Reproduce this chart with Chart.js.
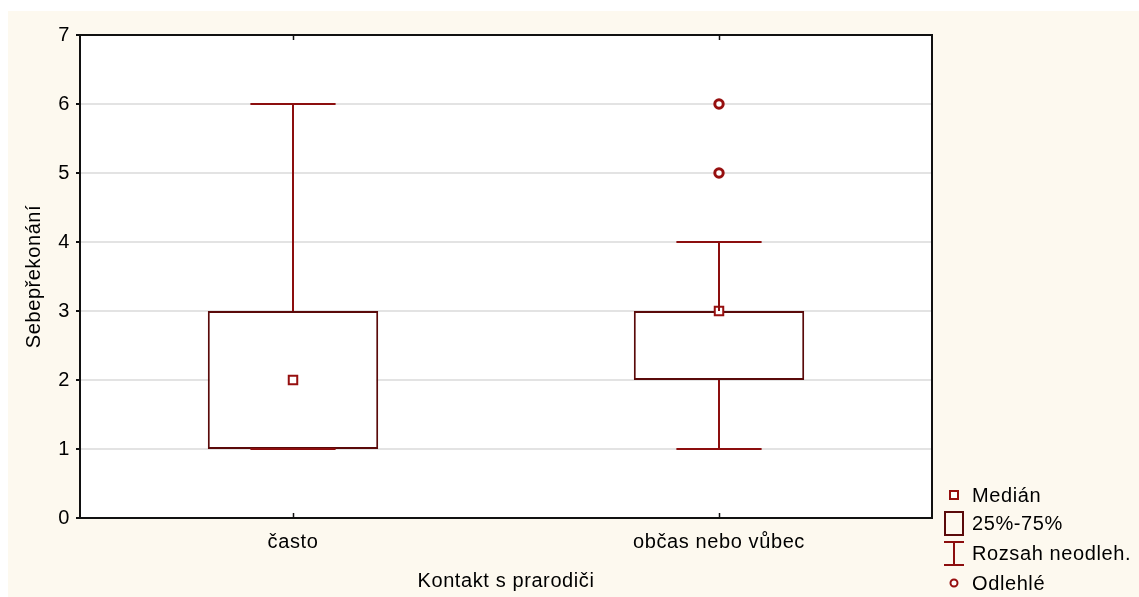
<!DOCTYPE html>
<html>
<head>
<meta charset="utf-8">
<script src="https://cdn.jsdelivr.net/npm/chart.js@4/dist/chart.umd.min.js"></script>
<style>
  html, body { margin: 0; padding: 0; background: #ffffff; }
  #wrap { width: 1139px; height: 597px; }
</style>
</head>
<body>
<div id="wrap"><canvas id="c" width="1139" height="597"></canvas></div>
<script>
// Box-plot summary per group
const categories = ['často', 'občas nebo vůbec'];
const minValues = [1, 1];
const q1Values = [1, 2];
const medianValues = [2, 3];
const q3Values = [3, 3];
const maxValues = [6, 4];
const outlierGroups = ['občas nebo vůbec', 'občas nebo vůbec'];
const outlierValues = [5, 6];
const yTicks = [0, 1, 2, 3, 4, 5, 6, 7];
const legendLabels = ['Medián', '25%-75%', 'Rozsah neodleh.', 'Odlehlé'];
const xTitle = 'Kontakt s prarodiči';
const yTitle = 'Sebepřekonání';

const FONT = '"Liberation Sans", Arial, sans-serif';
const FONT_SIZE = 20;
const SPACING = '0.6px';
const TEXT_COLOR = '#000000';
const BOX_COLOR = '#5a0a0a';
const WHISK_COLOR = '#8c0e0e';
const MARK_COLOR = '#960f0f';
const BG = '#fdf9ef';

const frameAndExtras = {
  id: 'frameAndExtras',
  beforeLayout(chart) { chart.ctx.letterSpacing = SPACING; },
  beforeDraw(chart) {
    const ctx = chart.ctx, a = chart.chartArea;
    ctx.letterSpacing = SPACING;
    ctx.save();
    ctx.fillStyle = '#ffffff';
    ctx.fillRect(0, 0, chart.width, chart.height);
    ctx.fillStyle = BG;
    ctx.fillRect(8, 11, chart.width - 8, chart.height - 11);
    ctx.fillStyle = '#ffffff';
    ctx.fillRect(a.left, a.top, a.right - a.left, a.bottom - a.top);
    ctx.restore();
  },
  afterDatasetsDraw(chart) {
    // whiskers drawn on top of the boxes
    const ctx = chart.ctx, xs = chart.scales.x, ys = chart.scales.y;
    const band = xs.getPixelForValue(1) - xs.getPixelForValue(0);
    const capHalf = band * 0.1;
    ctx.save();
    ctx.strokeStyle = WHISK_COLOR;
    ctx.lineWidth = 2;
    categories.forEach((c, i) => {
      const x = Math.round(xs.getPixelForValue(i));
      const yMax = ys.getPixelForValue(maxValues[i]);
      const yQ3 = ys.getPixelForValue(q3Values[i]);
      const yQ1 = ys.getPixelForValue(q1Values[i]);
      const yMin = ys.getPixelForValue(minValues[i]);
      ctx.beginPath();
      if (maxValues[i] > q3Values[i]) { ctx.moveTo(x, yMax); ctx.lineTo(x, yQ3); }
      if (minValues[i] < q1Values[i]) { ctx.moveTo(x, yQ1); ctx.lineTo(x, yMin); }
      ctx.moveTo(x - capHalf, yMax); ctx.lineTo(x + capHalf, yMax);
      ctx.moveTo(x - capHalf, yMin); ctx.lineTo(x + capHalf, yMin);
      ctx.stroke();
    });
    ctx.restore();
  },
  afterDraw(chart) {
    const ctx = chart.ctx, a = chart.chartArea, xs = chart.scales.x;
    ctx.save();
    // plot frame
    ctx.strokeStyle = '#111111';
    ctx.lineWidth = 2;
    ctx.strokeRect(a.left, a.top, a.right - a.left, a.bottom - a.top);
    // inward category ticks on top and bottom edges
    ctx.beginPath();
    categories.forEach((c, i) => {
      const x = Math.round(xs.getPixelForValue(i)) + 0.5;
      ctx.moveTo(x, a.bottom); ctx.lineTo(x, a.bottom - 5);
      ctx.moveTo(x, a.top); ctx.lineTo(x, a.top + 5);
    });
    ctx.lineWidth = 1.5;
    ctx.stroke();

    // axis titles
    ctx.letterSpacing = SPACING;
    ctx.fillStyle = TEXT_COLOR;
    ctx.font = FONT_SIZE + 'px ' + FONT;
    ctx.textAlign = 'center';
    ctx.textBaseline = 'middle';
    ctx.fillText(xTitle, (a.left + a.right) / 2, 581);
    ctx.save();
    ctx.translate(34, (a.top + a.bottom) / 2);
    ctx.rotate(-Math.PI / 2);
    ctx.fillText(yTitle, 0, 0);
    ctx.restore();

    // legend
    const lx = 954, tx = 972;
    const rows = [495, 523, 553, 583];
    ctx.textAlign = 'left';
    ctx.fillStyle = TEXT_COLOR;
    legendLabels.forEach((t, i) => ctx.fillText(t, tx, rows[i] + 1));
    // median symbol
    ctx.strokeStyle = MARK_COLOR; ctx.lineWidth = 2; ctx.fillStyle = '#ffffff';
    ctx.fillRect(lx - 4, rows[0] - 4, 8, 8);
    ctx.strokeRect(lx - 4, rows[0] - 4, 8, 8);
    // box symbol
    ctx.strokeStyle = BOX_COLOR;
    ctx.strokeRect(945, 512, 18, 23);
    // whisker symbol
    ctx.strokeStyle = WHISK_COLOR;
    ctx.beginPath();
    ctx.moveTo(944, 542); ctx.lineTo(964, 542);
    ctx.moveTo(954, 542); ctx.lineTo(954, 565);
    ctx.moveTo(944, 565); ctx.lineTo(964, 565);
    ctx.stroke();
    // outlier symbol
    ctx.strokeStyle = MARK_COLOR; ctx.lineWidth = 2;
    ctx.beginPath();
    ctx.arc(lx, rows[3], 3.5, 0, Math.PI * 2);
    ctx.fill(); ctx.stroke();
    ctx.restore();
  }
};

new Chart(document.getElementById('c'), {
  data: {
    labels: categories,
    datasets: [
      {
        type: 'bar',
        label: legendLabels[1],
        data: categories.map((c, i) => [q1Values[i], q3Values[i]]),
        backgroundColor: '#ffffff',
        borderColor: BOX_COLOR,
        borderWidth: 2,
        borderSkipped: false,
        barPercentage: 0.4,
        categoryPercentage: 1.0,
        order: 3
      },
      {
        type: 'line',
        label: legendLabels[0],
        data: categories.map((c, i) => ({ x: c, y: medianValues[i] })),
        showLine: false,
        pointStyle: 'rect',
        pointRadius: 6,
        pointBorderWidth: 2,
        pointBackgroundColor: '#ffffff',
        pointBorderColor: MARK_COLOR,
        order: 1
      },
      {
        type: 'line',
        label: legendLabels[3],
        data: outlierValues.map((v, i) => ({ x: outlierGroups[i], y: v })),
        showLine: false,
        pointStyle: 'circle',
        pointRadius: 4.2,
        pointBorderWidth: 3,
        pointBackgroundColor: '#ffffff',
        pointBorderColor: MARK_COLOR,
        order: 1
      }
    ]
  },
  options: {
    responsive: false,
    animation: false,
    events: [],
    layout: { padding: { left: 8, top: 35, right: 207, bottom: 0 } },
    plugins: { legend: { display: false }, tooltip: { enabled: false } },
    scales: {
      x: {
        type: 'category',
        offset: true,
        afterFit(s) { s.height = 79; },
        grid: { display: false, drawTicks: false },
        border: { display: false },
        ticks: { color: TEXT_COLOR, padding: 12, font: { family: FONT, size: FONT_SIZE } }
      },
      y: {
        min: 0,
        max: 7,
        afterFit(s) { s.width = 72; },
        afterBuildTicks(s) { s.ticks = yTicks.map(v => ({ value: v })); },
        grid: {
          color: ctx => (ctx.tick && (ctx.tick.value === 0 || ctx.tick.value === 7)) ? 'rgba(0,0,0,0)' : '#e3e3e3',
          lineWidth: 2,
          tickColor: '#111111',
          tickLength: 4
        },
        border: { display: false },
        ticks: { color: TEXT_COLOR, padding: 6, font: { family: FONT, size: FONT_SIZE } }
      }
    }
  },
  plugins: [frameAndExtras]
});
</script>
</body>
</html>
